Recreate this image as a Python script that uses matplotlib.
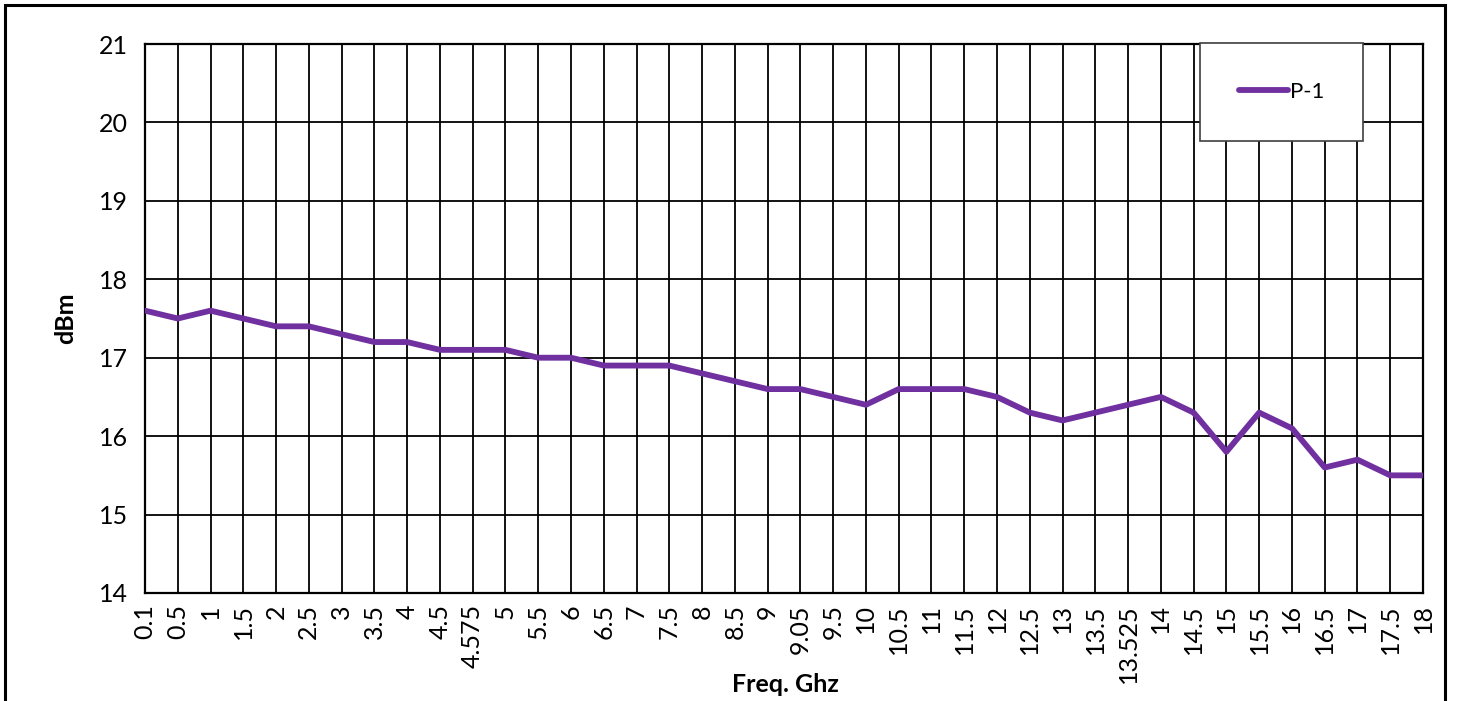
import matplotlib
matplotlib.use('Agg')
import matplotlib.pyplot as plt
from matplotlib.patches import Rectangle

freq_labels = ['0.1', '0.5', '1', '1.5', '2', '2.5', '3', '3.5', '4', '4.5', '4.575',
               '5', '5.5', '6', '6.5', '7', '7.5', '8', '8.5', '9', '9.05', '9.5', '10',
               '10.5', '11', '11.5', '12', '12.5', '13', '13.5', '13.525', '14', '14.5',
               '15', '15.5', '16', '16.5', '17', '17.5', '18']
p1 = [17.6, 17.5, 17.6, 17.5, 17.4, 17.4, 17.3, 17.2, 17.2, 17.1, 17.1,
      17.1, 17.0, 17.0, 16.9, 16.9, 16.9, 16.8, 16.7, 16.6, 16.6, 16.5, 16.4,
      16.6, 16.6, 16.6, 16.5, 16.3, 16.2, 16.3, 16.4, 16.5, 16.3,
      15.8, 16.3, 16.1, 15.6, 15.7, 15.5, 15.5]
y_ticks = [14, 15, 16, 17, 18, 19, 20, 21]

plt.rcParams['font.family'] = ['Lato', 'DejaVu Sans']

fig = plt.figure(figsize=(14.58, 7.01), dpi=100)
ax = fig.add_axes([145 / 1458, 1 - 593 / 701, (1423 - 145) / 1458, (593 - 44) / 701])

x = list(range(len(freq_labels)))
ax.plot(x, p1, color='#7030A0', linewidth=4.2, label='P-1', solid_capstyle='round', zorder=3)

ax.set_xlim(0, len(freq_labels) - 1)
ax.set_ylim(14, 21)
ax.set_xticks(x)
ax.set_xticklabels(freq_labels, rotation=90, fontsize=18)
ax.set_yticks(y_ticks)
ax.set_yticklabels([str(v) for v in y_ticks], fontsize=18)
ax.tick_params(axis='y', length=0, pad=12)
ax.tick_params(axis='x', length=0, pad=8)
ax.grid(True, color='black', linewidth=1.3)
ax.set_axisbelow(True)
for s in ax.spines.values():
    s.set_color('black')
    s.set_linewidth(1.6)

ax.set_ylabel('dBm', fontsize=18, fontweight='bold', labelpad=16)
fig.text(785 / 1458, 1 - 684 / 701, 'Freq. Ghz', fontsize=18, fontweight='bold',
         ha='center', va='center')

leg = ax.legend(loc='upper right', bbox_to_anchor=((1363 - 145) / 1278, 1.002),
                fontsize=16, frameon=True, fancybox=False, handlelength=2.2,
                handletextpad=0.1, borderpad=1.75, borderaxespad=0)
leg.get_frame().set_edgecolor('#404040')
leg.get_frame().set_linewidth(1.2)
leg.get_frame().set_alpha(1)

fig.patches.append(Rectangle((5 / 1458, -0.02), (1445 - 5) / 1458, 1 - 5 / 701 + 0.02,
                             transform=fig.transFigure, fill=False, edgecolor='black',
                             linewidth=2.2, zorder=10))

fig.savefig('out.png', dpi=100)
